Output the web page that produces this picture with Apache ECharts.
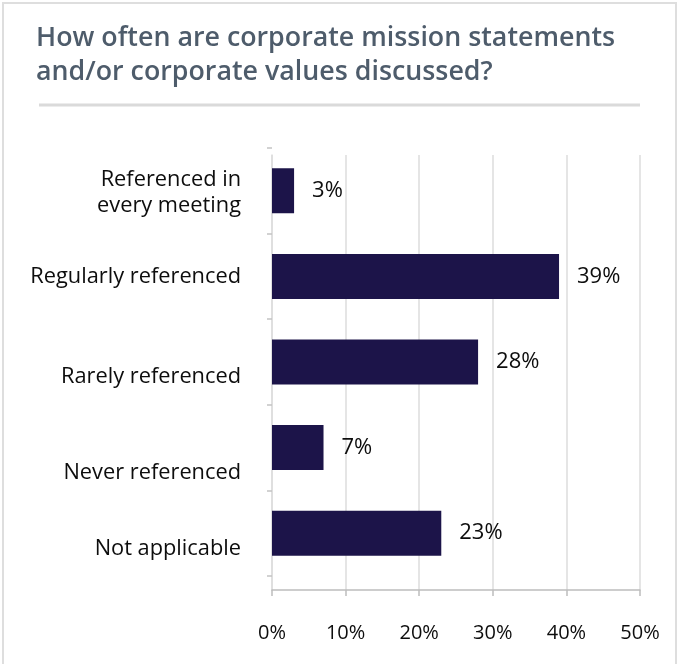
<!DOCTYPE html>
<html>
<head>
<meta charset="utf-8">
<script src="https://cdn.jsdelivr.net/npm/echarts@6/dist/echarts.min.js"></script>
<style>
  html, body { margin: 0; padding: 0; background: #ffffff; }
  #chart { width: 678px; height: 664px; }
</style>
</head>
<body>
<div id="chart"></div>
<script>
// Survey answers, top to bottom
const categories = [
  'Referenced in\nevery meeting',
  'Regularly referenced',
  'Rarely referenced',
  'Never referenced',
  'Not applicable'
];
// Share of respondents (%)
const shares = [3, 39, 28, 7, 23];
// Value axis ticks (%)
const tickValues = [0, 10, 20, 30, 40, 50];

const titleLines = [
  'How often are corporate mission statements',
  'and/or corporate values discussed?'
];

// vertical nudge (px) of each category label below its bar
const labelShift = [2, 0, 15, 25, 16];

const FONT = '"Open Sans", "Liberation Sans", sans-serif';
const BAR = '#1c1449';
const GRID_GREY = '#dcdcdc';
const LABEL_SIZE = 21.8;

// one rich style per category so each label can sit at its own height
const labelRich = {};
labelShift.forEach((s, i) => {
  labelRich['c' + i] = {
    fontFamily: FONT,
    fontSize: LABEL_SIZE,
    lineHeight: 26,
    color: '#0d0d0d',
    align: 'right',
    padding: [s * 2, 0, 0, 0]
  };
});

const chart = echarts.init(document.getElementById('chart'), null, { renderer: 'canvas' });

chart.setOption({
  backgroundColor: '#ffffff',
  animation: false,
  graphic: [
    {
      type: 'rect',
      shape: { x: 3, y: 3, width: 673, height: 700 },
      style: { fill: 'none', stroke: '#dedede', lineWidth: 2 },
      silent: true
    },
    {
      type: 'text',
      left: 36,
      top: 21,
      style: {
        text: titleLines.join('\n'),
        font: '600 26.8px ' + FONT,
        lineHeight: 34,
        fill: '#4e5c6b'
      }
    },
    {
      type: 'line',
      shape: { x1: 39, y1: 105, x2: 640, y2: 105 },
      style: { stroke: '#dadada', lineWidth: 3 },
      silent: true
    }
  ],
  grid: [
    // bars
    { left: 272, width: 368, top: 148, height: 428 },
    // frame: gridlines, value axis and left axis line
    { left: 272, width: 368, top: 155, height: 435 }
  ],
  xAxis: [
    {
      gridIndex: 0,
      type: 'value',
      min: tickValues[0],
      max: tickValues[tickValues.length - 1],
      interval: 10,
      show: false
    },
    {
      gridIndex: 1,
      type: 'value',
      min: tickValues[0],
      max: tickValues[tickValues.length - 1],
      interval: 10,
      axisLine: { show: true, lineStyle: { color: '#bdbdbd', width: 1.5 } },
      axisTick: { show: true, length: 6, lineStyle: { color: '#bdbdbd', width: 1.5 } },
      splitLine: { show: true, lineStyle: { color: GRID_GREY, width: 1.5 } },
      axisLabel: {
        margin: 33,
        formatter: '{value}%',
        color: '#0d0d0d',
        fontFamily: FONT,
        fontSize: 20
      }
    }
  ],
  yAxis: [
    {
      gridIndex: 0,
      type: 'category',
      inverse: true,
      data: categories,
      axisLine: { show: false },
      axisTick: { show: true, length: 5, lineStyle: { color: '#c4c4c4', width: 1.5 } },
      splitLine: { show: false },
      axisLabel: {
        margin: 31,
        align: 'right',
        formatter: (val, idx) => '{c' + idx + '|' + val.split('\n').join('}\n{c' + idx + '|') + '}',
        rich: labelRich,
        fontFamily: FONT,
        fontSize: LABEL_SIZE,
        color: '#0d0d0d'
      }
    },
    {
      gridIndex: 1,
      type: 'value',
      min: 0,
      max: 1,
      axisLine: { show: true, lineStyle: { color: GRID_GREY, width: 1.5 } },
      axisTick: { show: false },
      axisLabel: { show: false },
      splitLine: { show: false }
    }
  ],
  series: [
    {
      type: 'bar',
      xAxisIndex: 0,
      yAxisIndex: 0,
      data: shares,
      barWidth: 45,
      itemStyle: { color: BAR },
      label: {
        show: true,
        position: 'right',
        distance: 18,
        formatter: '{c}%',
        color: '#0d0d0d',
        fontFamily: FONT,
        fontSize: 22
      }
    }
  ]
});
</script>
</body>
</html>
